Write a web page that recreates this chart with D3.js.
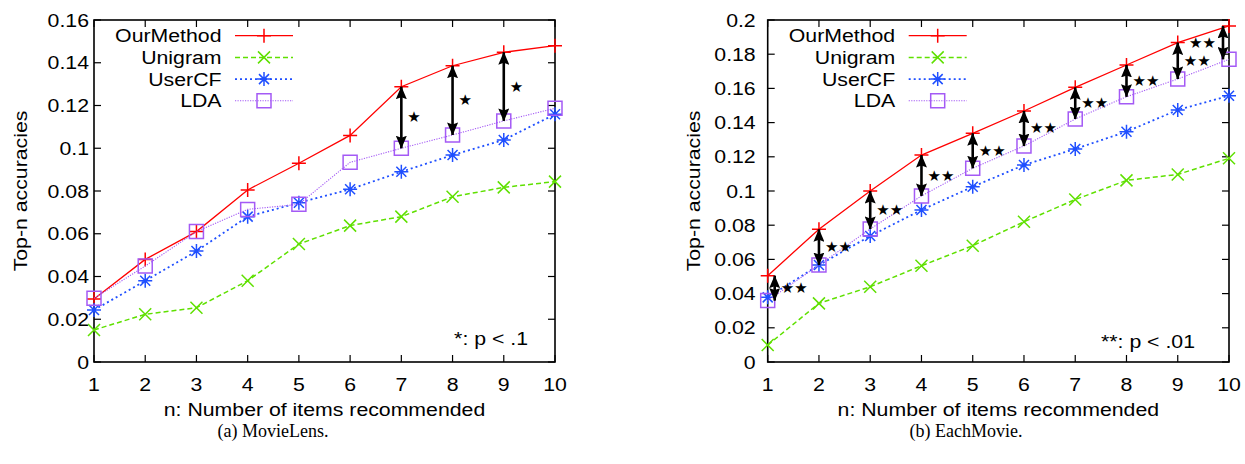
<!DOCTYPE html>
<html>
<head>
<meta charset="utf-8">
<script src="https://cdn.jsdelivr.net/npm/d3@7"></script>
<style>
  body { margin: 0; background: #fff; }
  svg { display: block; }
</style>
</head>
<body>
<svg id="chart" width="1245" height="464"></svg>
<script>
// series
const nValues = [1, 2, 3, 4, 5, 6, 7, 8, 9, 10];
const seriesNames = ["OurMethod", "Unigram", "UserCF", "LDA"];

const movieLensOurMethod = [0.0295, 0.048, 0.061, 0.0805, 0.093, 0.106, 0.1288, 0.1386, 0.1449, 0.148];
const movieLensUnigram   = [0.015, 0.0223, 0.0254, 0.038, 0.0552, 0.0638, 0.068, 0.0773, 0.0817, 0.0844];
const movieLensUserCF    = [0.0243, 0.038, 0.0519, 0.068, 0.0745, 0.0808, 0.089, 0.0968, 0.1039, 0.1159];
const movieLensLDA       = [0.0298, 0.0449, 0.061, 0.0714, 0.0738, 0.0934, 0.100, 0.1062, 0.1128, 0.1187];
const movieLensArrowN    = [7, 8, 9];

const eachMovieOurMethod = [0.0505, 0.0776, 0.100, 0.121, 0.1337, 0.1468, 0.1606, 0.1737, 0.1868, 0.1965];
const eachMovieUnigram   = [0.0099, 0.0343, 0.044, 0.0563, 0.068, 0.082, 0.0950, 0.1062, 0.1097, 0.1191];
const eachMovieUserCF    = [0.0378, 0.0567, 0.0737, 0.0889, 0.1025, 0.1152, 0.1246, 0.1347, 0.1474, 0.1557];
const eachMovieLDA       = [0.0359, 0.0567, 0.0778, 0.0971, 0.1133, 0.1263, 0.1421, 0.1551, 0.1655, 0.177];
const eachMovieArrowN    = [1, 2, 3, 4, 5, 6, 7, 8, 9, 10];

const movieLensYTicks = [0, 0.02, 0.04, 0.06, 0.08, 0.1, 0.12, 0.14, 0.16];
const eachMovieYTicks = [0, 0.02, 0.04, 0.06, 0.08, 0.1, 0.12, 0.14, 0.16, 0.18, 0.2];

const svg = d3.select("#chart");
const FONT = "'Liberation Sans', Arial, Helvetica, sans-serif";
const FS = 19;
const SX = 1.12; // the pdf text looks a bit wider than plain arial

const styles = [
  { color: "#ff0000", width: 1.3, dash: null, marker: "plus" },
  { color: "#5fe000", width: 1.5, dash: "5,3", marker: "cross" },
  { color: "#1f4fff", width: 1.8, dash: "2,3", marker: "star" },
  { color: "#a45af5", width: 1.1, dash: "1.2,1.3", marker: "box" }
];

function markerPath(kind) {
  const s = 7;
  if (kind === "plus") return `M${-s},0H${s}M0,${-s}V${s}`;
  if (kind === "cross") return `M${-6},${-6}L6,6M${-6},6L6,${-6}`;
  if (kind === "star") return `M${-s},0H${s}M0,${-s}V${s}M-5,-5L5,5M-5,5L5,-5`;
  return `M${-s},${-s}H${s}V${s}H${-s}Z`;
}

function label(g, x, y, str, anchor, size, rotate) {
  return g.append("g")
    .attr("transform", `translate(${x},${y})${rotate ? " rotate(-90)" : ""} scale(${SX},1)`)
    .append("text")
    .attr("text-anchor", anchor)
    .attr("dominant-baseline", "central")
    .style("font-family", FONT)
    .style("font-size", size + "px")
    .style("fill", "#000")
    .text(str);
}

// arrow heads
const defs = svg.append("defs");
defs.append("marker")
  .attr("id", "head")
  .attr("viewBox", "0 0 13 11")
  .attr("refX", 12.5).attr("refY", 5.5)
  .attr("markerWidth", 13).attr("markerHeight", 11)
  .attr("markerUnits", "userSpaceOnUse")
  .attr("orient", "auto-start-reverse")
  .append("path").attr("d", "M0,0L13,5.5L0,11L2,5.5Z").attr("fill", "#000");

function drawPanel(cfg) {
  const g = svg.append("g");
  const x = d3.scaleLinear().domain([1, 10]).range([cfg.left, cfg.right]);
  const y = d3.scaleLinear().domain([0, cfg.yMax]).range([362, 20]);
  const top = y(cfg.yMax), bottom = y(0);

  // ticks inward on all four sides
  const tk = 7;
  const tickG = g.append("g").attr("stroke", "#000").attr("stroke-width", 1.2);
  nValues.forEach(n => {
    tickG.append("line").attr("x1", x(n)).attr("x2", x(n)).attr("y1", bottom).attr("y2", bottom - tk);
    tickG.append("line").attr("x1", x(n)).attr("x2", x(n)).attr("y1", top).attr("y2", top + tk);
    label(g, x(n), 384, String(n), "middle", FS);
  });
  cfg.yTicks.forEach(v => {
    tickG.append("line").attr("x1", cfg.left).attr("x2", cfg.left + tk).attr("y1", y(v)).attr("y2", y(v));
    tickG.append("line").attr("x1", cfg.right).attr("x2", cfg.right - tk).attr("y1", y(v)).attr("y2", y(v));
    label(g, cfg.left - cfg.yLabelGap, y(v), d3.format("~g")(v), "end", FS);
  });

  // frame
  g.append("rect")
    .attr("x", cfg.left).attr("y", top)
    .attr("width", cfg.right - cfg.left).attr("height", bottom - top)
    .attr("fill", "none").attr("stroke", "#000").attr("stroke-width", 1.6);

  // series lines + point markers
  const line = d3.line().x((d, i) => x(nValues[i])).y(d => y(d));
  cfg.series.forEach((vals, si) => {
    const st = styles[si];
    g.append("path").datum(vals)
      .attr("d", line)
      .attr("fill", "none")
      .attr("stroke", st.color)
      .attr("stroke-width", st.width)
      .attr("stroke-dasharray", st.dash);
    g.selectAll(null).data(vals).enter().append("path")
      .attr("transform", (d, i) => `translate(${x(nValues[i])},${y(d)})`)
      .attr("d", markerPath(st.marker))
      .attr("fill", "none")
      .attr("stroke", st.color)
      .attr("stroke-width", 1.5);
  });

  // significance arrows between OurMethod and LDA
  const ours = cfg.series[0], lda = cfg.series[3];
  cfg.arrowN.forEach(n => {
    const i = n - 1;
    let ax = x(n);
    if (n === 1) ax += 7;
    const left = n === 10 && cfg.stars === "★★";
    if (left) ax -= 6;
    g.append("line")
      .attr("x1", ax).attr("x2", ax)
      .attr("y1", y(lda[i])).attr("y2", y(ours[i]))
      .attr("stroke", "#000").attr("stroke-width", 2.6)
      .attr("marker-start", "url(#head)")
      .attr("marker-end", "url(#head)");
    const my = (y(lda[i]) + y(ours[i])) / 2;
    g.append("text")
      .attr("x", left ? ax - 7 : ax + 6)
      .attr("y", my)
      .attr("text-anchor", left ? "end" : "start")
      .attr("dominant-baseline", "central")
      .style("font-family", "'DejaVu Sans', sans-serif")
      .style("font-size", "15px")
      .style("letter-spacing", "0px")
      .text(cfg.stars);
  });

  // legend
  seriesNames.forEach((name, si) => {
    const st = styles[si];
    const ly = 35.7 + si * 21.7;
    label(g, cfg.left + 127.5, ly, name, "end", FS);
    g.append("line")
      .attr("x1", cfg.left + 141).attr("x2", cfg.left + 199)
      .attr("y1", ly).attr("y2", ly)
      .attr("stroke", st.color).attr("stroke-width", st.width)
      .attr("stroke-dasharray", st.dash);
    g.append("path")
      .attr("transform", `translate(${cfg.left + 170},${ly})`)
      .attr("d", markerPath(st.marker))
      .attr("fill", "none").attr("stroke", st.color).attr("stroke-width", 1.5);
  });

  // note on p-value
  label(g, cfg.right - cfg.noteGap, cfg.noteY, cfg.note, "end", FS);

  // axis titles
  label(g, (cfg.left + cfg.right) / 2, 409, "n: Number of items recommended", "middle", FS);
  label(g, cfg.yTitleX, (top + bottom) / 2, "Top-n accuracies", "middle", FS, true);

  // caption
  g.append("text")
    .attr("x", cfg.captionX).attr("y", 437)
    .attr("text-anchor", "middle")
    .style("font-family", "'Liberation Serif', 'DejaVu Serif', serif")
    .style("font-size", "18px")
    .text(cfg.caption);
}

drawPanel({
  left: 94, right: 555, yMax: 0.16, yTicks: movieLensYTicks, yLabelGap: 5,
  series: [movieLensOurMethod, movieLensUnigram, movieLensUserCF, movieLensLDA],
  arrowN: movieLensArrowN, stars: "★",
  note: "*: p < .1", noteGap: 27, noteY: 338,
  yTitleX: 20, caption: "(a)  MovieLens.", captionX: 273
});

drawPanel({
  left: 767.7, right: 1229, yMax: 0.2, yTicks: eachMovieYTicks, yLabelGap: 12,
  series: [eachMovieOurMethod, eachMovieUnigram, eachMovieUserCF, eachMovieLDA],
  arrowN: eachMovieArrowN, stars: "★★",
  note: "**: p < .01", noteGap: 34, noteY: 341,
  yTitleX: 693, caption: "(b)  EachMovie.", captionX: 966
});
</script>
</body>
</html>
